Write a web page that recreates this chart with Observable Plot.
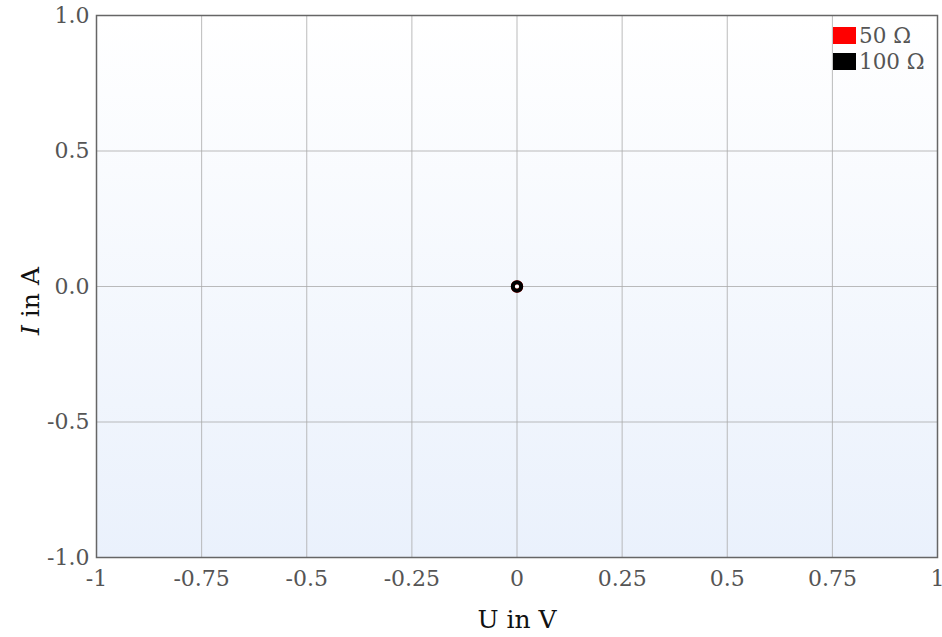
<!DOCTYPE html>
<html>
<head>
<meta charset="utf-8">
<script src="https://cdn.jsdelivr.net/npm/d3@7"></script>
<script src="https://cdn.jsdelivr.net/npm/@observablehq/plot@0.6"></script>
<style>
  html, body { margin: 0; padding: 0; background: #fff; }
  #wrap { position: relative; width: 942px; height: 637px; font-family: "DejaVu Serif", serif; }
  #wrap svg { overflow: visible; }
  #legend { position: absolute; left: 833px; top: 22px; font-size: 21.5px; color: #555; }
  #legend .row { display: flex; align-items: center; height: 26px; }
  #legend .sw { width: 23px; height: 17px; margin-right: 3px; }
</style>
</head>
<body>
<div id="wrap"></div>
<script>
const seriesNames = ["50 Ω", "100 Ω"];
const seriesColors = ["red", "black"];
const U50 = [0];
const I50 = [0];
const U100 = [0];
const I100 = [0];
const xTicks = [-1, -0.75, -0.5, -0.25, 0, 0.25, 0.5, 0.75, 1];
const xTickLabels = ["-1", "-0.75", "-0.5", "-0.25", "0", "0.25", "0.5", "0.75", "1"];
const yTicks = [-1, -0.5, 0, 0.5, 1];
const yTickLabels = ["-1.0", "-0.5", "0.0", "0.5", "1.0"];

const pts50 = U50.map((u, i) => ({U: u, I: I50[i]}));
const pts100 = U100.map((u, i) => ({U: u, I: I100[i]}));

const plot = Plot.plot({
  width: 942,
  height: 637,
  marginLeft: 96,
  marginRight: 5,
  marginTop: 15,
  marginBottom: 80,
  style: {fontFamily: "DejaVu Serif, serif", fontSize: "22px", color: "#555", background: "transparent", overflow: "visible"},
  x: {domain: [-1, 1], label: null},
  y: {domain: [-1, 1], label: null},
  marks: [
    Plot.frame({fill: "url(#bggrad)", stroke: null}),
    Plot.gridX(xTicks, {stroke: "#aaa", strokeOpacity: 0.8}),
    Plot.gridY(yTicks, {stroke: "#aaa", strokeOpacity: 0.8}),
    Plot.frame({stroke: "#666", strokeWidth: 1.5}),
    Plot.axisX(xTicks, {tickSize: 0, tickPadding: 13, fill: "#555", fontSize: 22, tickFormat: (d) => xTickLabels[xTicks.indexOf(d)], label: null}),
    Plot.axisY(yTicks, {tickSize: 0, tickPadding: 7, fill: "#555", fontSize: 22, tickFormat: (d) => yTickLabels[yTicks.indexOf(d)], label: null}),
    Plot.text(["U in V"], {frameAnchor: "bottom", dy: 62, fontSize: 25, fill: "#111", lineAnchor: "middle"}),
    Plot.dot(pts50, {x: "U", y: "I", r: 4.2, fill: "white", stroke: seriesColors[0], strokeWidth: 4}),
    Plot.dot(pts100, {x: "U", y: "I", r: 4.2, fill: "none", stroke: seriesColors[1], strokeWidth: 4})
  ]
});

// gradient background
const defs = document.createElementNS("http://www.w3.org/2000/svg", "defs");
defs.innerHTML = '<linearGradient id="bggrad" x1="0" y1="0" x2="0" y2="1"><stop offset="0" stop-color="#ffffff"/><stop offset="1" stop-color="#eaf1fc"/></linearGradient>';
plot.insertBefore(defs, plot.firstChild);

const wrap = document.getElementById("wrap");
wrap.appendChild(plot);

// y-axis label with italic I
const svgns = "http://www.w3.org/2000/svg";
const yl = document.createElementNS(svgns, "text");
yl.setAttribute("transform", "translate(39,301) rotate(-90)");
yl.setAttribute("text-anchor", "middle");
yl.setAttribute("font-size", "25");
yl.setAttribute("fill", "#111");
yl.setAttribute("font-family", "DejaVu Serif, serif");
yl.innerHTML = '<tspan font-style="italic">I</tspan> in A';
plot.appendChild(yl);

// legend
const leg = document.createElement("div");
leg.id = "legend";
seriesNames.forEach((n, i) => {
  const row = document.createElement("div");
  row.className = "row";
  const sw = document.createElement("span");
  sw.className = "sw";
  sw.style.background = seriesColors[i];
  const t = document.createElement("span");
  t.textContent = n;
  row.appendChild(sw); row.appendChild(t);
  leg.appendChild(row);
});
wrap.appendChild(leg);
</script>
</body>
</html>
